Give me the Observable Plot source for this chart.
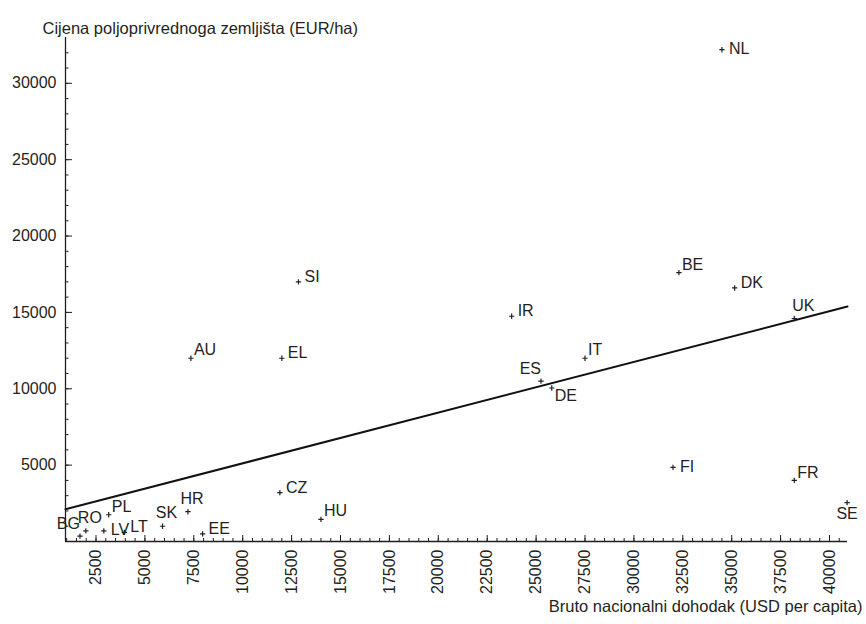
<!DOCTYPE html>
<html>
<head>
<meta charset="utf-8">
<script src="https://cdn.jsdelivr.net/npm/d3@7"></script>
<script src="https://cdn.jsdelivr.net/npm/@observablehq/plot@0.6"></script>
<style>
  html, body { margin: 0; padding: 0; background: #fff; }
  #chart svg { display: block; }
</style>
</head>
<body>
<div id="chart"></div>
<script>
// ---- Data ----
const countries = ["NL","BE","DK","UK","IR","IT","ES","DE","SI","AU","EL","CZ","HU","FI","FR","SE","HR","SK","EE","PL","RO","LV","LT","BG"];
const gni       = [34500,32300,35150,38200,23750,27500,25250,25800,12850,7350,12000,11900,14000,32000,38200,40900,7200,5900,7950,3150,1980,2900,3950,1680];
const landPrice = [32200,17600,16600,14600,14750,12000,10500,10050,17000,12000,12000,3200,1450,4850,4000,2550,1950,1000,500,1750,700,700,600,350];
const labelPlacement = ["E0","NE","E","NNE","E","NE","NW","SE","E","NE","E","E","NE","E0","NE","S","N","N","E","NE","N","E0","E","NW"];

const xTicks = d3.range(2500, 40001, 2500);
const yTicks = d3.range(5000, 30001, 5000);
const xMinorTicks = d3.range(1000, 41000, 500);
const yMinorTicks = d3.range(1000, 33000, 1000);
const xDomain = [940, 40920];
const yDomain = [0, 33000];
const trend = {intercept: 1800, slope: 0.332};

const yTitle = "Cijena poljoprivrednoga zemljišta (EUR/ha)";
const xTitle = "Bruto nacionalni dohodak (USD per capita)";

// ---- Build table ----
const rows = countries.map((c, i) => ({country: c, gni: gni[i], price: landPrice[i], pos: labelPlacement[i]}));
const trendPts = xDomain.map(x => ({x, y: trend.intercept + trend.slope * x}));

const placements = {
  E0:  {dx: 7, dy: -1, anchor: "start"},
  E:   {dx: 6, dy: -5, anchor: "start"},
  NE:  {dx: 3, dy: -8, anchor: "start"},
  NNE: {dx: -2, dy: -13, anchor: "start"},
  N:   {dx: 4, dy: -13, anchor: "middle"},
  NW:  {dx: 0, dy: -12, anchor: "end"},
  S:   {dx: 0, dy: 11, anchor: "middle"},
  SE:  {dx: 3, dy: 8, anchor: "start"}
};

const ink = "#231f20";
const thinPlus = {
  draw(ctx, size) {
    const r = Math.sqrt(size) / 2;
    ctx.moveTo(-r, 0); ctx.lineTo(r, 0);
    ctx.moveTo(0, -r); ctx.lineTo(0, r);
  }
};

const labelMarks = Object.entries(placements).map(([key, p]) =>
  Plot.text(rows.filter(d => d.pos === key), {
    x: "gni", y: "price", text: "country",
    dx: p.dx, dy: p.dy, textAnchor: p.anchor, fill: ink, fontSize: 16
  })
);

const fmt = d => String(d);

const chart = Plot.plot({
  width: 866,
  height: 624,
  marginLeft: 65,
  marginRight: 19,
  marginTop: 37,
  marginBottom: 83,
  style: {fontFamily: "'Liberation Sans', Arial, sans-serif", fontSize: "16px", color: ink, background: "#fff"},
  x: {domain: xDomain, label: null},
  y: {domain: yDomain, label: null},
  marks: [
    // axis lines
    Plot.ruleX([xDomain[0]], {stroke: ink, strokeWidth: 1.3}),
    Plot.ruleY([yDomain[0]], {stroke: ink, strokeWidth: 1.3}),
    // y axis ticks (inward) and labels
    Plot.axisY(yMinorTicks, {tickSize: -3.5, text: null, stroke: ink, strokeWidth: 1}),
    Plot.axisY(yTicks, {tickSize: -7, text: null, stroke: ink, strokeWidth: 1}),
    Plot.axisY(yTicks, {tickSize: 0, tickPadding: 9, tickFormat: fmt, fill: ink, fontSize: 16}),
    // x axis ticks (inward) and rotated labels
    Plot.axisX(xMinorTicks, {tickSize: -3, text: null, stroke: ink, strokeWidth: 1}),
    Plot.axisX(xTicks, {tickSize: -6, text: null, stroke: ink, strokeWidth: 1}),
    Plot.axisX(xTicks, {tickSize: 0, tickRotate: -90, tickPadding: 8, tickFormat: fmt, fill: ink, fontSize: 16}),
    // trend line
    Plot.line(trendPts, {x: "x", y: "y", stroke: "#111", strokeWidth: 2}),
    // points
    Plot.dot(rows, {x: "gni", y: "price", symbol: thinPlus, r: 3, stroke: ink, strokeWidth: 1.2, fill: "none"}),
    ...labelMarks,
    // axis titles
    Plot.text([yTitle], {frameAnchor: "top-left", text: d => d, dx: -23, dy: -15, textAnchor: "start", fill: ink, fontSize: 16.5}),
    Plot.text([xTitle], {frameAnchor: "bottom-right", text: d => d, dx: 15, dy: 70, textAnchor: "end", fill: ink, fontSize: 16.5})
  ]
});

document.getElementById("chart").appendChild(chart);
</script>
</body>
</html>
